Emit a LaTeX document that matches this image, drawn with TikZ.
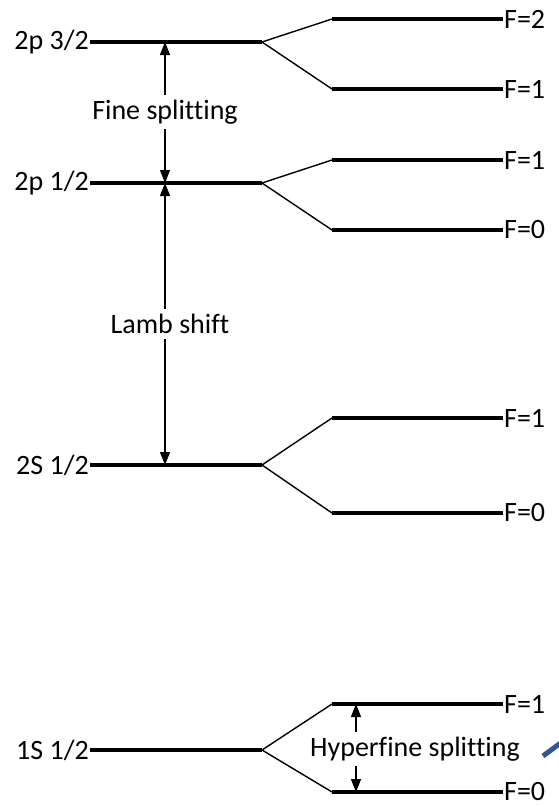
\documentclass[tikz,border=0pt]{standalone}
\usepackage{fontspec}
\setmainfont{Carlito}[Ligatures=NoCommon]
\usetikzlibrary{arrows.meta}
\definecolor{SlideBlue}{RGB}{47,85,151}
\tikzset{
  level/.style={line width=4pt},
  branch/.style={line width=1.4pt},
  gap/.style={-{Triangle[length=13pt,width=10pt]},line width=1.4pt},
  lbl/.style={font=\fontsize{28}{32}\selectfont,inner sep=1pt},
  gaplbl/.style={font=\fontsize{28}{32}\selectfont,inner sep=5pt},
}

\begin{document}
\begin{tikzpicture}[x=1pt,y=-1pt]
  \useasboundingbox (0,0) rectangle (559,807);
  \foreach \name/\y/\txt in {pa/42/{2p 3/2}, pb/183/{2p 1/2}, sb/465/{2S 1/2}, sa/750/{1S 1/2}}{
    \coordinate (\name-l) at (90,\y);
    \coordinate (\name-r) at (262,\y);
    \node[lbl,anchor=east] (\name-txt) at (\name-l) {\txt};
    \draw[level] (\name-l) -- (\name-r);
  }
  \foreach \name/\from/\y/\txt in {paU/pa/19/F=2, paD/pa/89/F=1, pbU/pb/160/F=1, pbD/pb/230/F=0,
      sbU/sb/418/F=1, sbD/sb/513/F=0, saU/sa/704/F=1, saD/sa/792/F=0}{
    \coordinate (\name-l) at (332,\y);
    \coordinate (\name-r) at (503,\y);
    \draw[branch] (\from-r) -- (\name-l);
    \draw[level] (\name-l) -- (\name-r);
    \node[lbl,anchor=west] (\name-txt) at (\name-r) {\txt};
  }
  \coordinate (fx) at (165,0);
  \coordinate (hx) at (356,0);
  \node[gaplbl] (fine) at (165,112) {Fine splitting};
  \node[gaplbl] (lamb) at (170,324) {Lamb shift};
  \node[gaplbl] (hyper) at (415,749) {Hyperfine splitting};
  \draw[gap] (fine.north -| fx) -- (pa-l -| fx);
  \draw[gap] (fine.south -| fx) -- (pb-l -| fx);
  \draw[gap] (lamb.north -| fx) -- (pb-l -| fx);
  \draw[gap] (lamb.south -| fx) -- (sb-l -| fx);
  \draw[gap] (hyper.north -| hx) -- (saU-l -| hx);
  \draw[gap] (hyper.south -| hx) -- (saD-l -| hx);
  \coordinate (tail) at (543,756);
  \coordinate (head) at (566,739);
  \draw[SlideBlue,line width=5pt] (tail) -- (head);
\end{tikzpicture}
\end{document}
